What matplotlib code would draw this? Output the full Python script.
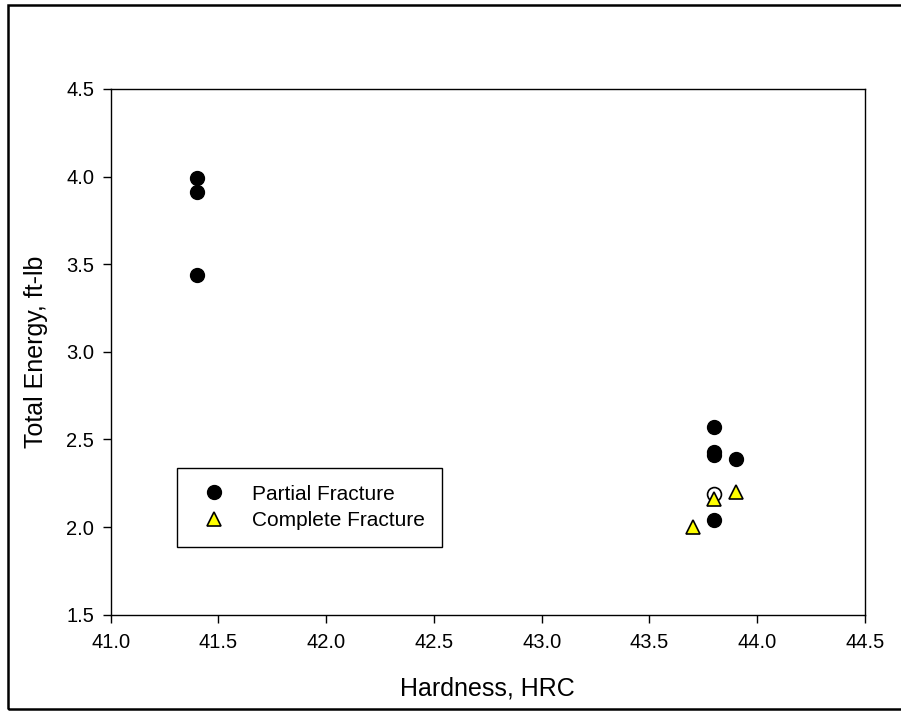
import matplotlib.pyplot as plt
from matplotlib.patches import Rectangle

plt.rcParams['font.family'] = ['Liberation Sans', 'DejaVu Sans']

# Partial fracture (filled circles)
partial_hrc = [41.4, 41.4, 41.4, 43.8, 43.8, 43.8, 43.9, 43.8]
partial_energy = [3.99, 3.91, 3.44, 2.57, 2.43, 2.41, 2.39, 2.04]

# open circle point
open_hrc = [43.8]
open_energy = [2.19]

# Complete fracture (yellow triangles)
complete_hrc = [43.7, 43.8, 43.9]
complete_energy = [2.00, 2.16, 2.20]

x_ticks = [41.0, 41.5, 42.0, 42.5, 43.0, 43.5, 44.0, 44.5]
y_ticks = [1.5, 2.0, 2.5, 3.0, 3.5, 4.0, 4.5]

fig = plt.figure(figsize=(9.01, 7.11), dpi=100)
ax = fig.add_axes([110.7 / 901, 1 - 614.7 / 711, (865 - 110.7) / 901, (614.7 - 89) / 711])

ax.plot(partial_hrc, partial_energy, 'o', color='black', markersize=10,
        markeredgecolor='black', markeredgewidth=1, label='Partial Fracture', zorder=3)
ax.plot(open_hrc, open_energy, 'o', color='white', markersize=10,
        markeredgecolor='black', markeredgewidth=1.2, zorder=3)
ax.plot(complete_hrc, complete_energy, '^', color='yellow', markersize=10,
        markeredgecolor='black', markeredgewidth=1.2, label='Complete Fracture', zorder=4)

ax.set_xlim(41.0, 44.5)
ax.set_ylim(1.5, 4.5)
ax.set_xticks(x_ticks)
ax.set_yticks(y_ticks)
ax.set_xticklabels([f'{v:.1f}' for v in x_ticks])
ax.set_yticklabels([f'{v:.1f}' for v in y_ticks])
ax.tick_params(direction='out', length=5.8, width=1, labelsize=14.5)
ax.tick_params(axis='x', pad=7.5)
ax.tick_params(axis='y', pad=6)
for s in ax.spines.values():
    s.set_linewidth(1)

ax.set_xlabel('Hardness, HRC', fontsize=18)
ax.set_ylabel('Total Energy, ft-lb', fontsize=18)
ax.xaxis.set_label_coords(0.5, -0.118)
ax.yaxis.set_label_coords(-0.0831, 0.5)

leg = ax.legend(loc='upper left', bbox_to_anchor=(177 / 901, 1 - 468 / 711),
                bbox_transform=fig.transFigure, borderaxespad=0, fontsize=15,
                frameon=True, fancybox=False, edgecolor='black', framealpha=1,
                borderpad=0.8, labelspacing=0.35, handlelength=1.95,
                handletextpad=0.85)
leg.get_frame().set_linewidth(1)

# outer frame around the whole picture
fig.patches.append(Rectangle((8 / 901, 1 - 709 / 711), 1.0, (709 - 5) / 711,
                             transform=fig.transFigure, fill=False,
                             edgecolor='black', linewidth=1.8))

fig.savefig('out.png', dpi=100)
